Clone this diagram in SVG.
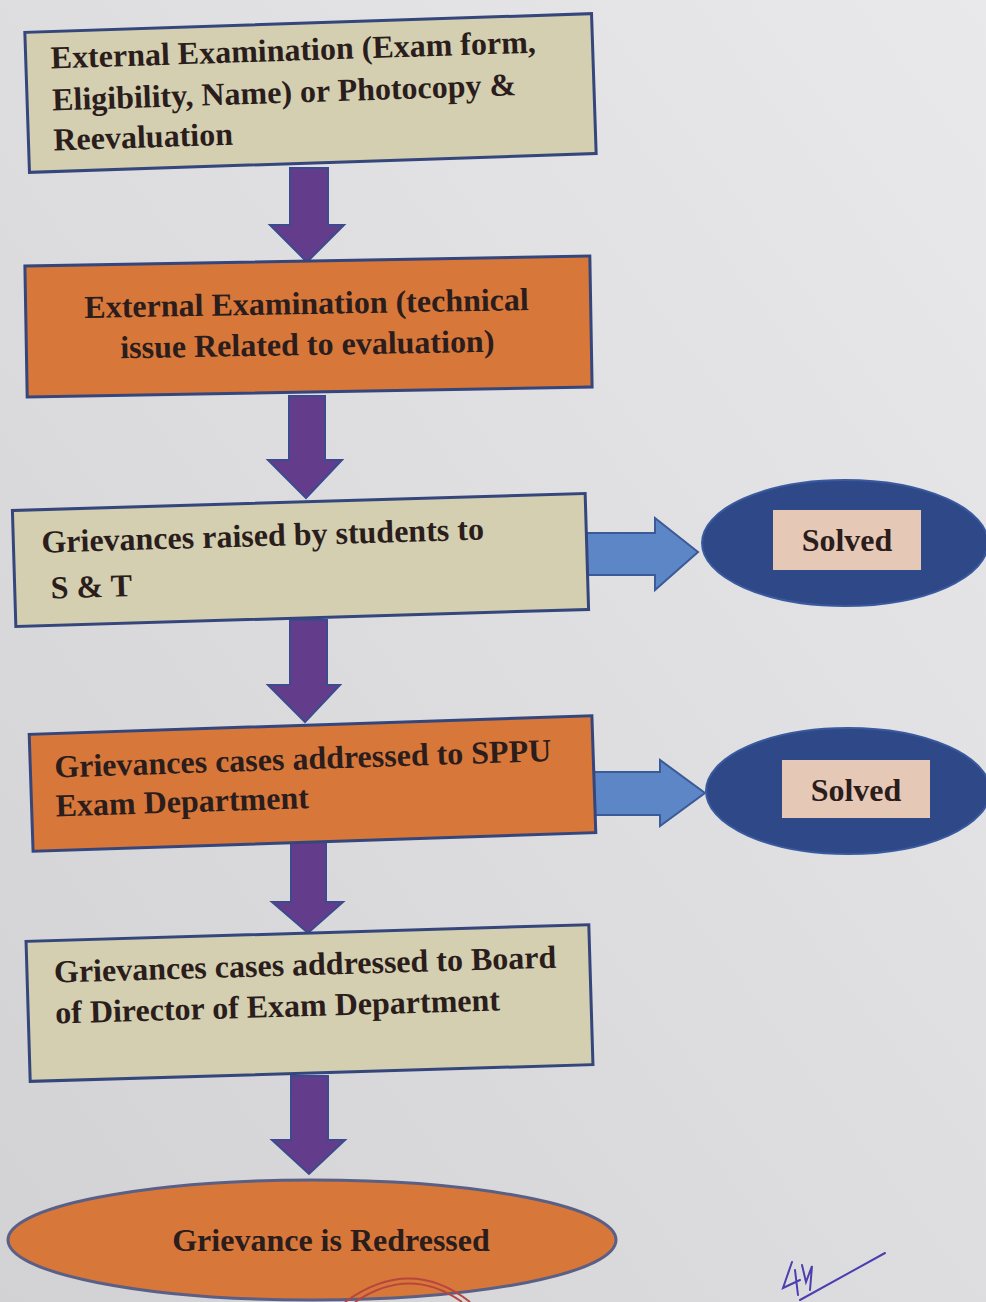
<svg xmlns="http://www.w3.org/2000/svg" width="986" height="1302" viewBox="0 0 986 1302">
<defs>
<linearGradient id="bg" x1="0" y1="1" x2="1" y2="0">
<stop offset="0" stop-color="#d2d1d4"/>
<stop offset="1" stop-color="#e9e9ec"/>
</linearGradient>
<style>
.khaki{fill:#d3cfb0;stroke:#34467c;stroke-width:3}
.orange{fill:#d8773a;stroke:#34467c;stroke-width:3}
.down{fill:#633d8c;stroke:#3b4b8e;stroke-width:2}
.right{fill:#5d86c6;stroke:#3a5a98;stroke-width:2}
.oval{fill:#2f4887;stroke:#3a5aa0;stroke-width:2}
.tag{fill:#e6c8b6}
.t{font-family:"Liberation Serif","Times New Roman",serif;font-weight:bold;font-size:32px;fill:#2b1d1c}
.ink{fill:none;stroke:#4b3fb0;stroke-width:2;stroke-linecap:round}
.stamp{fill:none;stroke:#b8463c;stroke-width:2}
</style>
</defs>
<rect width="986" height="1302" fill="url(#bg)"/>

<g id="connectors">
<polygon class="down" points="290,168 328,168 328,225 344,225 307,262 270,225 290,225"/>
<polygon class="down" points="289,396 325,396 325,460 342,460 306,498 268,460 289,460"/>
<polygon class="down" points="290,620 327,620 327,685 340,685 305,722 268,685 290,685"/>
<polygon class="down" points="291,842 326,842 326,902 343,902 308,933 272,902 291,902"/>
<polygon class="down" points="291,1076 328,1076 328,1140 345,1140 309,1174 272,1140 291,1140"/>
<polygon class="right" points="587,533 655,533 655,518 698,552 655,590 655,575 587,575"/>
<polygon class="right" points="594,772 660,772 660,760 705,793 660,826 660,815 594,815"/>
</g>

<g id="node1" transform="rotate(-1.9 310 93)">
<rect class="khaki" x="27" y="23" width="567" height="140"/>
<text class="t" x="52" y="60">External Examination (Exam form,</text>
<text class="t" x="52" y="102">Eligibility, Name) or Photocopy &amp;</text>
<text class="t" x="52" y="142">Reevaluation</text>
</g>

<g id="node2" transform="rotate(-1 308 326)">
<rect class="orange" x="26" y="261" width="565" height="131"/>
<text class="t" x="307" y="314" text-anchor="middle">External Examination (technical</text>
<text class="t" x="307" y="355" text-anchor="middle">issue Related to evaluation)</text>
</g>

<g id="node3" transform="rotate(-1.7 300 560)">
<rect class="khaki" x="14" y="502" width="573" height="116"/>
<text class="t" x="42" y="545">Grievances raised by students to</text>
<text class="t" x="50" y="591">S &amp; T</text>
</g>

<g id="node4" transform="rotate(-1.9 312 784)">
<rect class="orange" x="31" y="725" width="563" height="117"/>
<text class="t" x="55" y="769">Grievances cases addressed to SPPU</text>
<text class="t" x="55" y="808">Exam Department</text>
</g>

<g id="node5" transform="rotate(-1.7 310 1003)">
<rect class="khaki" x="28" y="933" width="563" height="140"/>
<text class="t" x="55" y="975">Grievances cases addressed to Board</text>
<text class="t" x="55" y="1016">of Director of Exam Department</text>
</g>

<g id="solved1">
<ellipse class="oval" cx="845" cy="543" rx="143" ry="63"/>
<rect class="tag" x="773" y="510" width="148" height="60"/>
<text class="t" x="847" y="551" text-anchor="middle">Solved</text>
</g>

<g id="solved2">
<ellipse class="oval" cx="848" cy="791" rx="142" ry="63"/>
<rect class="tag" x="782" y="760" width="148" height="58"/>
<text class="t" x="856" y="801" text-anchor="middle">Solved</text>
</g>

<g id="node6">
<ellipse cx="312" cy="1240" rx="304" ry="60" fill="#d8773a" stroke="#5a5f86" stroke-width="3"/>
<text class="t" x="331" y="1251" text-anchor="middle">Grievance is Redressed</text>
</g>

<path class="stamp" d="M345,1302 Q410,1255 470,1302"/>
<path class="stamp" d="M355,1302 Q410,1265 462,1302"/>
<path class="ink" d="M800,1300 L885,1253"/>
<path class="ink" d="M792,1262 L783,1288 L800,1280 M795,1270 L798,1295 M802,1265 L806,1282 L812,1266 L810,1290"/>
</svg>
